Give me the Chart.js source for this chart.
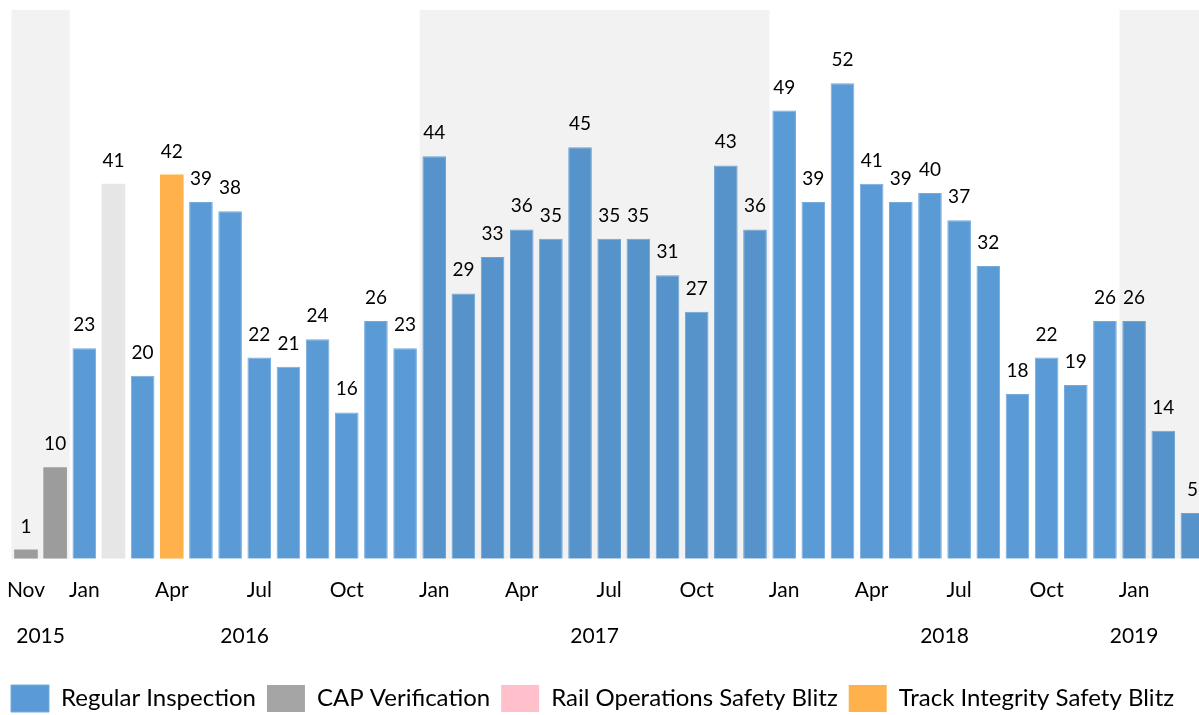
<!DOCTYPE html>
<html>
<head>
<meta charset="utf-8">
<script src="https://cdn.jsdelivr.net/npm/chart.js@4.4.1/dist/chart.umd.min.js"></script>
<style>
    html, body { margin: 0; padding: 0; background: #fff; overflow: hidden; }
    #wrap { position: relative; width: 1207px; height: 722px; }
</style>
</head>
<body>
<div id="wrap"><canvas id="my-chart"></canvas></div>
<script>
    // 월별 점검 건수 (Nov 2015 ~ Mar 2019)
    const months = [
        "Nov", "Dec",
        "Jan", "Feb", "Mar", "Apr", "May", "Jun", "Jul", "Aug", "Sep", "Oct", "Nov", "Dec",
        "Jan", "Feb", "Mar", "Apr", "May", "Jun", "Jul", "Aug", "Sep", "Oct", "Nov", "Dec",
        "Jan", "Feb", "Mar", "Apr", "May", "Jun", "Jul", "Aug", "Sep", "Oct", "Nov", "Dec",
        "Jan", "Feb", "Mar",
    ];
    const counts = [
        1, 10,
        23, 41, 20, 42, 39, 38, 22, 21, 24, 16, 26, 23,
        44, 29, 33, 36, 35, 45, 35, 35, 31, 27, 43, 36,
        49, 39, 52, 41, 39, 40, 37, 32, 18, 22, 19, 26,
        26, 14, 5,
    ];
    // R = regular, C = CAP, P = rail ops blitz, T = track blitz, X = other
    const inspType = [
        "C", "C",
        "R", "X", "R", "T", "R", "R", "R", "R", "R", "R", "R", "R",
        "R", "R", "R", "R", "R", "R", "R", "R", "R", "R", "R", "R",
        "R", "R", "R", "R", "R", "R", "R", "R", "R", "R", "R", "R",
        "R", "R", "R",
    ];

    const seriesKeys = ["R", "C", "P", "T", "X"];
    const seriesNames = [
        "Regular Inspection",
        "CAP Verification",
        "Rail Operations Safety Blitz",
        "Track Integrity Safety Blitz",
        "Other",
    ];
    const seriesColors = ["#5b9bd5", "#a5a5a5", "#ffc0cb", "#ffb14b", "#e6e6e6"];

    // 연도 그룹 (카테고리 인덱스)
    const yearNames = ["2015", "2016", "2017", "2018", "2019"];
    const yearFirst = [0, 2, 14, 26, 38];
    const yearLast = [1, 13, 25, 37, 38];

    const FONT = "Lato, 'Open Sans', sans-serif";

    // 짝수 연도 음영 + 막대 위 숫자
    const overlayPlugin = {
        id: "overlay",
        afterDatasetsDraw(chart) {
            const ctx = chart.ctx;
            const x = chart.scales.x;
            const area = chart.chartArea;
            const half = (x.getPixelForValue(1) - x.getPixelForValue(0)) / 2;

            ctx.save();
            ctx.fillStyle = "rgba(0,0,0,0.05)";
            yearNames.forEach((name, i) => {
                if (i % 2 !== 0) return;
                const x0 = x.getPixelForValue(yearFirst[i]) - half;
                const x1 = i + 1 < yearFirst.length
                    ? x.getPixelForValue(yearFirst[i + 1]) - half
                    : area.right;
                ctx.fillRect(x0, area.top, x1 - x0, area.bottom - area.top);
            });

            ctx.fillStyle = "#000";
            ctx.font = "19px " + FONT;
            ctx.textAlign = "center";
            ctx.textBaseline = "alphabetic";
            chart.data.datasets.forEach((ds, di) => {
                const meta = chart.getDatasetMeta(di);
                meta.data.forEach((bar, i) => {
                    if (ds.data[i] == null) return;
                    ctx.fillText(String(ds.data[i]), bar.x, bar.y - 17);
                });
            });
            ctx.restore();
        },
        afterDraw(chart) {
            const ctx = chart.ctx;
            const x = chart.scales.x;
            ctx.save();
            ctx.fillStyle = "#000";
            ctx.font = "21px " + FONT;
            ctx.textAlign = "center";
            ctx.textBaseline = "alphabetic";
            yearNames.forEach((name, i) => {
                const cx = (x.getPixelForValue(yearFirst[i]) + x.getPixelForValue(yearLast[i])) / 2;
                ctx.fillText(name, cx, 642.5);
            });
            ctx.restore();
        },
    };

    function createChart() {
        const context = document.getElementById("my-chart");

        const datasets = seriesKeys.map((key, k) => ({
            label: seriesNames[k],
            data: counts.map((v, i) => (inspType[i] === key ? v : null)),
            backgroundColor: seriesColors[k],
            borderColor: key === "R" ? "#74abdd" : seriesColors[k],
            borderWidth: key === "R" ? 1 : 0,
            barPercentage: 0.81,
            categoryPercentage: 1,
        }));

        const config = {
            type: "bar",
            data: { labels: months, datasets: datasets },
            options: {
                responsive: true,
                maintainAspectRatio: false,
                animation: false,
                devicePixelRatio: 1,
                layout: { autoPadding: false, padding: { top: 10, left: 0, right: 0, bottom: 0 } },
                plugins: {
                    tooltip: { enabled: false },
                    legend: {
                        position: "bottom",
                        align: "start",
                        labels: {
                            boxWidth: 38,
                            boxHeight: 27,
                            padding: 11,
                            color: "#000",
                            font: { family: FONT, size: 24 },
                            filter: (item) => item.text !== "Other",
                        },
                    },
                },
                scales: {
                    x: {
                        stacked: true,
                        // tick mark length used only as label offset (grid hidden)
                        grid: { display: false, drawTicks: true, tickLength: 19 },
                        border: { display: false },
                        ticks: {
                            autoSkip: false,
                            maxRotation: 0,
                            padding: 0,
                            color: "#000",
                            font: { family: FONT, size: 21 },
                            callback: (val, i) =>
                                i === 0 || ["Jan", "Apr", "Jul", "Oct"].includes(months[i]) ? months[i] : "",
                        },
                        afterFit: (s) => { s.height = 115.3; },
                    },
                    y: {
                        stacked: true,
                        min: 0,
                        max: 60,
                        grid: { display: false, drawTicks: false },
                        border: { display: false },
                        ticks: { display: false },
                        afterFit: (s) => { s.width = 11.4; },
                    },
                },
            },
            plugins: [overlayPlugin],
        };

        return new Chart(context, config);
    }

    createChart();
</script>
</body>
</html>
